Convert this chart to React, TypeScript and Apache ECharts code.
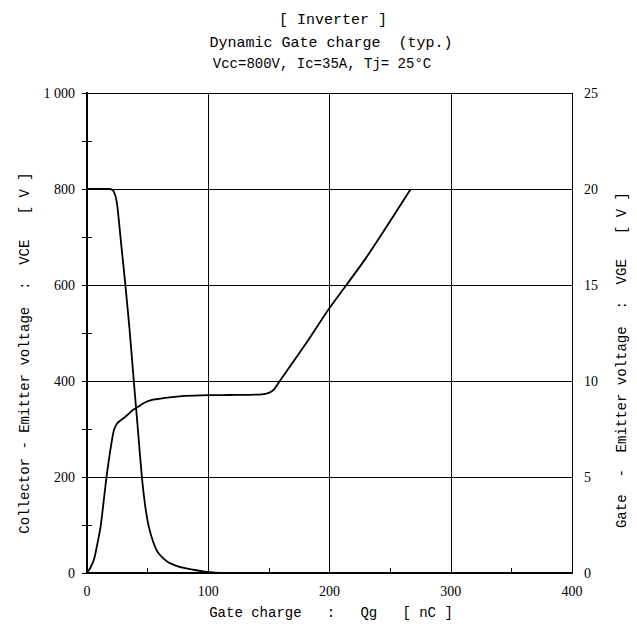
import React, { useEffect, useRef } from "react";
import * as echarts from "echarts";

const xTicks = [0, 100, 200, 300, 400];
const leftTicks = [0, 200, 400, 600, 800, 1000];
const rightTicks = [0, 5, 10, 15, 20, 25];

// Collector-Emitter voltage VCE [V] vs gate charge Qg [nC]
const vceQg = [0, 15, 19, 22, 24.6, 28, 31.8, 35, 38.6, 42, 45.4, 48, 51, 55, 59, 66, 75, 85, 97, 110];
const vceV = [800, 800, 800, 795, 772, 690, 596, 510, 400, 298, 196, 140, 96, 62, 41, 24, 14, 8, 3, 0];

// Gate-Emitter voltage VGE [V] vs gate charge Qg [nC]
const vgeQg = [0, 3, 5.75, 8.5, 11.2, 13.5, 15.9, 19, 22.2, 25, 27.7, 31, 34.5, 38, 42.7, 47, 51, 57, 64.7, 81, 100, 116.7, 130, 144, 150, 154, 159, 180, 200, 230, 267];
const vgeV = [0, 0.3, 0.7, 1.5, 2.4, 3.6, 4.9, 6.3, 7.45, 7.8, 7.95, 8.1, 8.3, 8.5, 8.68, 8.85, 8.96, 9.05, 9.12, 9.22, 9.26, 9.27, 9.28, 9.3, 9.38, 9.55, 10, 11.9, 13.8, 16.4, 20];

const titleLines = ["[ Inverter ]", "Dynamic Gate charge  (typ.)", "Vcc=800V, Ic=35A, Tj= 25°C"];
const xName = "Gate charge   :   Qg   [ nC ]";
const leftName = "Collector - Emitter voltage  :  VCE   [ V ]";
const rightName = "Gate  -  Emitter voltage  :  VGE   [ V ]";

export default function App() {
  const ref = useRef<HTMLDivElement>(null);
  useEffect(() => {
    if (!ref.current) return;
    const chart = echarts.init(ref.current, null, { renderer: "svg" });
    const mono = "Liberation Mono, DejaVu Sans Mono, monospace";
    const serif = "Liberation Serif, DejaVu Serif, serif";
    const L = 87, R = 572, T = 93, B = 573;
    const txt = (text: string, x: number, y: number, size: number, rot = 0) => ({
      type: "text",
      x,
      y,
      rotation: rot,
      style: {
        text,
        font: `${size}px ${mono}`,
        fill: "#000",
        textAlign: "center",
        textVerticalAlign: "middle",
        align: "center",
        verticalAlign: "middle",
      },
    });
    chart.setOption({
      animation: false,
      backgroundColor: "#fff",
      grid: { left: L, right: 637 - R, top: T, bottom: 630 - B, containLabel: false },
      graphic: [
        txt(titleLines[0], 333, 20, 15),
        txt(titleLines[1], 331, 43, 15),
        txt(titleLines[2], 322, 64, 14),
        txt(xName, 331, 613, 14),
        txt(leftName, 25, 353, 14, Math.PI / 2),
        txt(rightName, 622, 360, 14, Math.PI / 2),
      ],
      xAxis: [
        {
          type: "value",
          min: xTicks[0],
          max: xTicks[xTicks.length - 1],
          interval: 100,
          position: "bottom",
          axisLine: { show: true, lineStyle: { color: "#000", width: 2 } },
          axisTick: { show: true, inside: true, length: 5, lineStyle: { color: "#000" } },
          minorTick: { show: true, splitNumber: 2, length: 5, lineStyle: { color: "#000" } },
          axisLabel: { color: "#000", fontFamily: serif, fontSize: 14, margin: 11 },
          splitLine: { show: true, lineStyle: { color: "#000", width: 1 } },
        },
        {
          type: "value",
          min: 0,
          max: 400,
          interval: 100,
          position: "top",
          axisLine: { show: true, lineStyle: { color: "#000", width: 2 } },
          axisTick: { show: false },
          minorTick: { show: true, splitNumber: 2, length: 5, lineStyle: { color: "#000" } },
          axisLabel: { show: false },
          splitLine: { show: false },
        },
      ],
      yAxis: [
        {
          type: "value",
          min: leftTicks[0],
          max: leftTicks[leftTicks.length - 1],
          interval: 200,
          position: "left",
          axisLine: { show: true, lineStyle: { color: "#000", width: 2 } },
          axisTick: { show: true, inside: true, length: 5, lineStyle: { color: "#000" } },
          minorTick: { show: true, splitNumber: 2, length: 5, lineStyle: { color: "#000" } },
          axisLabel: {
            color: "#000",
            fontFamily: serif,
            fontSize: 14,
            margin: 12,
            formatter: (v: number) => (v === 1000 ? "1 000" : String(v)),
          },
          splitLine: { show: true, lineStyle: { color: "#000", width: 1 } },
        },
        {
          type: "value",
          min: rightTicks[0],
          max: rightTicks[rightTicks.length - 1],
          interval: 5,
          position: "right",
          axisLine: { show: true, lineStyle: { color: "#000", width: 2 } },
          axisTick: { show: true, inside: true, length: 5, lineStyle: { color: "#000" } },
          minorTick: { show: true, splitNumber: 2, length: 5, lineStyle: { color: "#000" } },
          axisLabel: { color: "#000", fontFamily: serif, fontSize: 14, margin: 12 },
          splitLine: { show: false },
        },
      ],
      series: [
        {
          type: "line",
          name: "VCE",
          xAxisIndex: 0,
          yAxisIndex: 0,
          data: vceQg.map((q, i) => [q, vceV[i]]),
          showSymbol: false,
          smooth: 0.25,
          lineStyle: { color: "#000", width: 1.8 },
        },
        {
          type: "line",
          name: "VGE",
          xAxisIndex: 0,
          yAxisIndex: 1,
          data: vgeQg.map((q, i) => [q, vgeV[i]]),
          showSymbol: false,
          smooth: 0.25,
          lineStyle: { color: "#000", width: 1.8 },
        },
      ],
    });
    return () => chart.dispose();
  }, []);
  return (
    <div
      ref={ref}
      style={{ position: "absolute", left: 0, top: 0, width: 637, height: 630, background: "#fff" }}
    />
  );
}
